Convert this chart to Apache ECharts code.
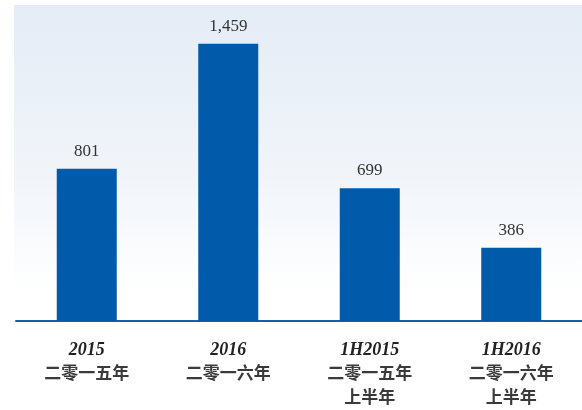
<!DOCTYPE html>
<html>
<head>
<meta charset="utf-8">
<script src="https://cdn.jsdelivr.net/npm/echarts@6/dist/echarts.min.js"></script>
<style>
  html, body { margin: 0; padding: 0; background: #fff; }
  #chart { width: 582px; height: 410px; }
</style>
</head>
<body>
<div id="chart"></div>
<script>
// data
const years = ['2015', '2016', '1H2015', '1H2016']
const cnNames = ['二零一五年', '二零一六年', '二零一五年\n上半年', '二零一六年\n上半年']
const values = [801, 1459, 699, 386]

const chart = echarts.init(document.getElementById('chart'))

chart.setOption({
    animation: false,
    graphic: [
        {
            type: 'rect',
            z: -10,
            shape: { x: 14, y: 5, width: 568, height: 316 },
            style: {
                fill: new echarts.graphic.LinearGradient(0, 0, 0, 1, [
                    { offset: 0, color: '#e4ecf6' },
                    { offset: 0.55, color: '#f1f5fa' },
                    { offset: 0.9, color: '#ffffff' },
                    { offset: 1, color: '#ffffff' }
                ])
            }
        }
    ],
    grid: {
        left: 16,
        right: -3,
        top: 36,
        bottom: 89
    },
    xAxis: {
        type: 'category',
        data: years.map((y, i) => y + '|' + cnNames[i]),
        axisLine: {
            show: true,
            lineStyle: { color: '#1560ac', width: 2 }
        },
        axisTick: { show: false },
        axisLabel: {
            margin: 18,
            interval: 0,
            formatter: (v) => {
                const [y, cn] = v.split('|')
                return '{y|' + y + '}\n' + cn.split('\n').map(s => '{c|' + s + '}').join('\n')
            },
            rich: {
                y: {
                    fontFamily: '"Liberation Serif", "DejaVu Serif", serif',
                    fontStyle: 'italic',
                    fontWeight: 'bold',
                    fontSize: 18,
                    color: '#222',
                    lineHeight: 22
                },
                c: {
                    fontFamily: '"Noto Sans CJK SC", sans-serif',
                    fontSize: 17,
                    fontWeight: 'bold',
                    color: '#3a3a3a',
                    lineHeight: 24
                }
            }
        }
    },
    yAxis: {
        type: 'value',
        min: 0,
        max: 1500,
        show: false,
        splitLine: { show: false }
    },
    series: [
        {
            type: 'bar',
            data: values,
            barWidth: 60,
            itemStyle: { color: '#015aaa' },
            label: {
                show: true,
                position: 'top',
                distance: 9,
                fontFamily: '"Liberation Serif", "DejaVu Serif", serif',
                fontSize: 17,
                color: '#333',
                formatter: (p) => p.value.toLocaleString('en-US')
            }
        }
    ]
})
</script>
</body>
</html>
